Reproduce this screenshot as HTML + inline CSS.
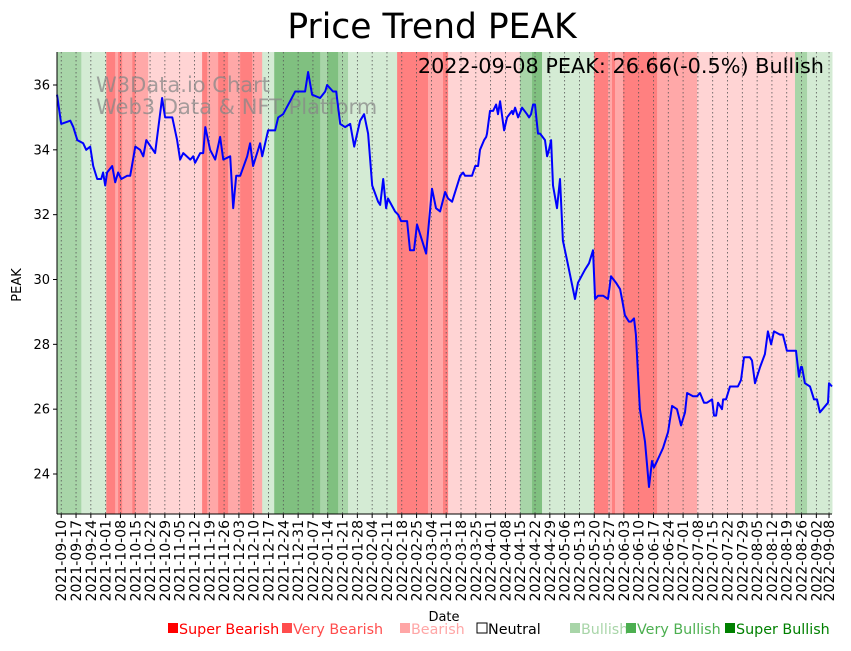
<!DOCTYPE html>
<html><head><meta charset="utf-8"><style>
body{margin:0;background:#fff;font-family:"Liberation Sans","DejaVu Sans",sans-serif}
svg text{font-family:"DejaVu Sans","Liberation Sans",sans-serif}
</style></head><body>
<svg id="chart" width="851" height="646" xmlns="http://www.w3.org/2000/svg">
<text x="432" y="38" font-size="34.5" text-anchor="middle">Price Trend PEAK</text>
<g id="bands"></g>
<g id="grid"></g>
<g fill="#888" fill-opacity="0.75" font-size="21">
<text x="96" y="92">W3Data.io Chart</text><text x="96" y="114">Web3 Data &amp; NFT Platform</text></g>
<path id="line" fill="none" stroke="#0000ff" stroke-width="2" stroke-linejoin="round"/>
<text x="824" y="73" font-size="20.8" text-anchor="end">2022-09-08 PEAK: 26.66(-0.5%) Bullish</text>
<line x1="57" y1="52" x2="57" y2="514" stroke="#000" stroke-width="1"/>
<line x1="57" y1="514" x2="832" y2="514" stroke="#000" stroke-width="1"/>
<g id="yticks"></g>
<g id="xticks"></g>
<text transform="translate(21,285) rotate(-90)" font-size="13" text-anchor="middle">PEAK</text>
<text x="444" y="621" font-size="13" text-anchor="middle">Date</text>
<g id="legend" font-size="14.3"></g>
</svg>
<script>
const bandStarts=[-2,9.5,21.3,25.5,26.9,28.8,33.6,35,41.1,66.6,69,74.2,78.9,84.6,90.3,95,100.7,122.4,125.7,130.9,135.6,158.8,173.4,180.5,182.9,216.9,222.6,227.3,251.9,258.5,260.4,261.8,265.6,281.7,300.6,346.9,352.6];
const bandLevels=[1,0.5,-2,-1,-2,-1,-2,-1,-0.5,-2,-1,-2,-1,-2,-1,0.5,2,1,2,1,0.5,-2,-1,-2,-0.5,1,2,0.5,-2,-1,-2,-1,-2,-1,-0.5,1,0.5];
const days=[-2,0,4.3,5.7,7.6,10.4,11.8,13.7,15.1,17,18.9,19.8,20.8,21.7,24.1,25.5,26.9,28.4,31.2,32.6,35,37.3,38.8,40.2,44.4,47.7,49.1,52.5,54.8,56.2,57.7,61,62.4,63.3,65.7,67.1,68.1,70.4,72.8,75.1,76.6,79.9,81.3,82.7,84.6,87.9,89.3,90.7,94,95,97.8,101.1,102.6,104.9,108.2,110.6,112,115.3,116.7,118.6,122.4,124.8,125.7,128.5,130,131.9,134.2,136.6,138.5,141.3,143.2,145.1,147,149.8,150.8,152.2,153.6,154.5,157.8,159.3,160.7,163.5,164.9,166.8,168.2,170.6,172.5,175.3,177.2,179.1,181.5,182.9,184.8,188.6,190,190.9,194.2,195.7,197.1,198,199.9,200.9,201.3,202.7,204.2,205.6,206.5,207.5,209.4,210.8,213.1,213.6,214.6,216,217.9,220.2,221.2,222.1,223.1,224,225.4,226.4,228.7,229.7,230.6,231.6,232.5,234.4,235.8,237.2,239.1,242.9,244.3,247.6,249.5,251.4,252.4,253.8,256.2,258.5,259.9,262.3,264.2,265.1,266.5,268.4,269.4,270.8,271.7,273.6,276,277.9,279.3,280.2,281.7,284.5,286.9,288.8,291.1,293,294.9,295.9,298.7,300.6,302,303.9,305.3,307.7,308.6,309.6,310.5,312.4,312.9,314.3,316.2,317.6,319.9,321.4,322.8,325.6,326.6,328,330.4,332.7,334.1,335.6,337,339.8,341.2,343.1,347.4,348.8,349.7,350.2,351.6,354,355.9,357.3,358.7,362.5,363,364.4];
const prices=[35.7,34.8,34.9,34.7,34.3,34.2,34,34.1,33.5,33.1,33.1,33.3,32.9,33.3,33.5,33,33.3,33.1,33.2,33.2,34.1,34,33.8,34.3,33.9,35.6,35,35,34.3,33.7,33.9,33.7,33.8,33.6,33.9,33.9,34.7,34,33.7,34.4,33.7,33.8,32.2,33.2,33.2,33.8,34.2,33.5,34.2,33.8,34.6,34.6,35,35.1,35.5,35.8,35.8,35.8,36.4,35.7,35.6,35.8,36,35.8,35.8,34.8,34.7,34.8,34.1,34.9,35.1,34.5,32.9,32.4,32.3,33.1,32.2,32.5,32.1,32,31.8,31.8,30.9,30.9,31.7,31.2,30.8,32.8,32.2,32.1,32.7,32.5,32.4,33.2,33.3,33.2,33.2,33.5,33.5,34,34.3,34.4,34.5,35.2,35.2,35.4,35.1,35.5,34.6,35,35.2,35.1,35.3,35,35.3,35.1,35,35.1,35.4,35.4,34.5,34.5,34.3,33.8,34,34.3,32.9,32.2,33.1,31.2,30.6,29.4,29.9,30.3,30.5,30.9,29.4,29.5,29.5,29.4,30.1,29.9,29.7,29.4,28.9,28.7,28.7,28.8,28.3,26,25,23.6,24.4,24.2,24.4,24.8,25.3,26.1,26,25.5,25.9,26.5,26.4,26.4,26.5,26.2,26.2,26.3,25.8,25.8,26.2,26,26.3,26.3,26.7,26.7,26.7,26.9,27.6,27.6,27.5,26.8,27.3,27.7,28.4,28,28.4,28.3,28.3,27.8,27.8,27,27.3,27.3,26.8,26.7,26.3,26.3,25.9,26.2,26.8,26.7];
const yTicks=[24,26,28,30,32,34,36];
const startDate="2021-09-10";
const xTickDays=[];for(let d=0;d<=357;d+=7)xTickDays.push(d);xTickDays.push(363);
const legendLabels=["Super Bearish","Very Bearish","Bearish","Neutral","Bullish","Very Bullish","Super Bullish"];
const legendColors=["#ff0000","#ff4d4d","#ffa6a6","#ffffff","#a8d5a8","#4caf50","#008000"];
const legendTextColors=["#ff0000","#ff4d4d","#ffa6a6","#000000","#a8d5a8","#4caf50","#008000"];

const NS="http://www.w3.org/2000/svg";
const X0=57,X1=832,Y0=52,Y1=514,D0=-2,D1=364.4;
const xs=d=>X0+(d-D0)/(D1-D0)*(X1-X0);
const ys=v=>85+(36-v)/12*(474-85);
const levelColor={"-2":"#ff8080","-1":"#ffa8a8","-0.5":"#ffd4d4","0.5":"#d4ebd4","1":"#a8d5a8","2":"#80c080"};
function mk(t,a){const e=document.createElementNS(NS,t);for(const k in a)e.setAttribute(k,a[k]);return e;}
const bg=document.getElementById('bands');
for(let i=0;i<bandStarts.length;i++){
  const s=xs(bandStarts[i]),e=xs(i+1<bandStarts.length?bandStarts[i+1]:D1);
  const r=mk('rect',{x:s,y:Y0,width:e-s+0.5,height:Y1-Y0,fill:levelColor[bandLevels[i]]});
  
  
  bg.appendChild(r);
}
const grid=document.getElementById('grid'),xt=document.getElementById('xticks');
const base=new Date(startDate+"T00:00:00Z");
xTickDays.forEach(d=>{
  const x=xs(d);
  const g=mk('line',{x1:x,y1:Y0,x2:x,y2:Y1,stroke:'#555','stroke-width':0.8,'stroke-dasharray':'1.5,2.5'});
  
  
  grid.appendChild(g);
  const t=mk('line',{x1:x,y1:Y1,x2:x,y2:Y1+4,stroke:'#000'});
  
  
  xt.appendChild(t);
  const dt=new Date(base.getTime()+d*86400000).toISOString().slice(0,10);
  const l=mk('text',{transform:`translate(${x+5},${Y1+6}) rotate(-90)`,'font-size':14,'text-anchor':'end'});
  l.textContent=dt;
  
  
  xt.appendChild(l);
});
const yt=document.getElementById('yticks');
yTicks.forEach(v=>{
  const y=ys(v);
  const t=mk('line',{x1:X0-4,y1:y,x2:X0,y2:y,stroke:'#000'});
  
  
  yt.appendChild(t);
  const l=mk('text',{x:X0-7,y:y+4.5,'font-size':13,'text-anchor':'end'});
  l.textContent=v;
  
  
  yt.appendChild(l);
});
document.getElementById('line').setAttribute('d',days.map((d,i)=>(i?'L':'M')+xs(d).toFixed(1)+','+ys(prices[i]).toFixed(1)).join(''));
const lg=document.getElementById('legend');
const lx=[167,281,399,476,569,625,724];
legendLabels.forEach((n,i)=>{
  const r=mk('rect',{x:lx[i]+1,y:623,width:10,height:10,fill:legendColors[i],stroke:i==3?'#000':'none'});
  
  
  lg.appendChild(r);
  const t=mk('text',{x:lx[i]+12,y:634,fill:legendTextColors[i]});
  t.textContent=n;
  
  
  lg.appendChild(t);
});
</script>
</body></html>
